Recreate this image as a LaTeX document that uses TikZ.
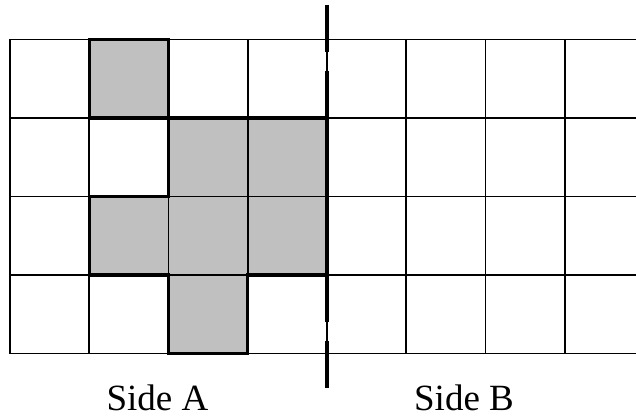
\documentclass[tikz,border=0pt]{standalone}
\usepackage{fontspec}
\setmainfont{Liberation Serif}
\definecolor{cellgray}{RGB}{192,192,192}
\begin{document}
\begin{tikzpicture}[x=1pt,y=-1pt,
  gridline/.style={line width=1.8pt,black},
  outline/.style={line width=3.2pt,black,line join=miter},
  divider/.style={line width=4pt,black,dash pattern=on 47pt off 19pt},
  sidelabel/.style={font=\fontsize{37}{40}\selectfont,anchor=base,inner sep=0pt}]
  \useasboundingbox (0,0) rectangle (636,417);
  % cell size
  \def\cw{79.25}
  \def\ch{78.5}
  % shaded cells
  \fill[cellgray] (89.25,39.5) rectangle (168.5,118);
  \fill[cellgray] (168.5,118) -- (327,118) -- (327,275) -- (247.75,275)
    -- (247.75,353.5) -- (168.5,353.5) -- (168.5,275) -- (89.25,275)
    -- (89.25,196.5) -- (168.5,196.5) -- cycle;
  % grid
  \foreach \i in {0,...,7}
    \draw[gridline] ({10+\i*\cw},39.5) -- ({10+\i*\cw},353.5);
  \foreach \j in {0,...,4}
    \draw[gridline] (10,{39.5+\j*\ch}) -- (636,{39.5+\j*\ch});
  % outlines of the shaded regions
  \draw[outline] (89.25,39.5) rectangle (168.5,118);
  \draw[outline] (168.5,118) -- (327,118) -- (327,275) -- (247.75,275)
    -- (247.75,353.5) -- (168.5,353.5) -- (168.5,275) -- (89.25,275)
    -- (89.25,196.5) -- (168.5,196.5) -- cycle;
  % dividing line between the two sides
  \coordinate (dtop) at (327,5);
  \coordinate (dmidA) at (327,118);
  \coordinate (dmidB) at (327,275);
  \coordinate (dbot) at (327,388);
  \draw[divider] (dtop) -- (dmidA);
  \draw[divider] (dmidB) -- (dbot);
  % labels
  \node[sidelabel] (sideA) at (157.5,410) {Side A};
  \node[sidelabel] (sideB) at (464,410) {Side B};
\end{tikzpicture}
\end{document}
